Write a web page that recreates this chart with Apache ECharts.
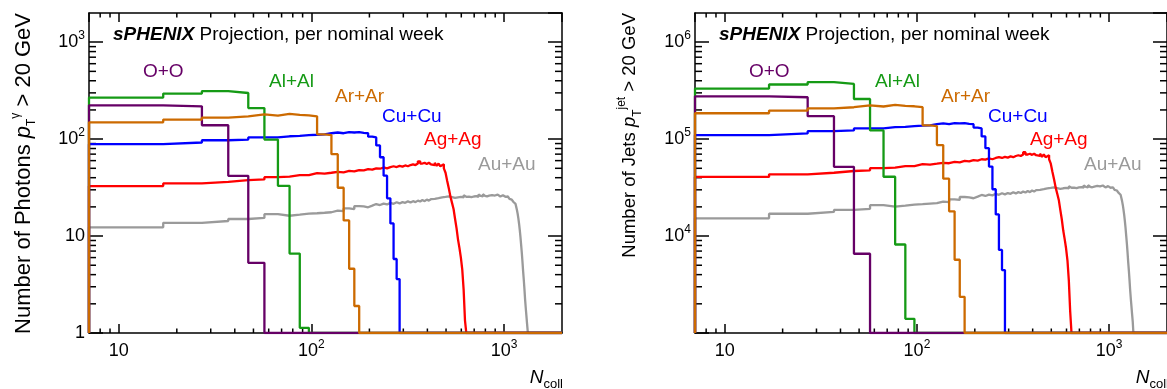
<!DOCTYPE html>
<html><head><meta charset="utf-8">
<script src="https://cdn.jsdelivr.net/npm/echarts@6/dist/echarts.min.js"></script>
<style>html,body{margin:0;padding:0;background:#fff}#c{width:1167px;height:389px}</style>
</head><body><div id="c"></div>
<script>
// Histogram binning in N_coll (bins of width 10 starting at 7)
const BIN_START = 7, BIN_WIDTH = 10;
const species = ['Au+Au', 'Ag+Ag', 'Cu+Cu', 'Al+Al', 'O+O', 'Ar+Ar']; // draw order
const xTickLabels = ['10', '10²', '10³'];

// ---- photons, pT > 20 GeV ----
const photons_OO = [223, 218, 139, 41.8, 5.3];
const photons_AlAl = [268, 295, 313, 299, 209, 99, 33, 6.6, 1.13];
const photons_ArAr = [149, 159, 167, 172, 180, 175, 182, 178, 176, 172, 112, 110, 70, 31.5, 14.5, 4.6, 1.9];
const photons_CuCu = [88.6, 92.3, 97.4, 99, 104, 104, 107, 108, 110, 111,
  112, 115, 117, 115, 118, 117, 118, 116, 115, 106,
  104, 86, 65, 42, 24.5, 13.5, 5.8, 3.6];
const photons_AgAg = [32.8, 34.9, 36.3, 37.8, 38.4, 40.5, 41, 42.5, 42.5, 44.5,
  44, 45, 46, 45.5, 47, 46.5, 48, 47.5, 49, 48.5,
  50, 49.5, 51, 50, 51.5, 52.5, 51.5, 53, 52, 53.5,
  52.5, 54, 55, 54, 56, 59, 56, 57, 55.5, 57,
  55, 56, 54, 57, 53, 56, 52.5, 55, 50, 45,
  37, 31, 25.5, 22, 19, 15, 12, 9.2, 7.5, 6,
  4.5, 2.8, 1.35];
const photons_AuAu = [12.3, 13.7, 14.3, 15.0, 15.4, 16.8, 16.2, 16.6, 17.0, 17.2,
  17.4, 17.6, 18.3, 18.1, 19.3, 19.0, 20.4, 20.2, 19.8, 20.6,
  21.4, 20.9, 21.6, 21.2, 22.0, 21.5, 22.3, 21.7, 22.4, 22.0,
  22.8, 22.2, 22.9, 22.4, 23.2, 22.7, 23.5, 22.9, 23.8, 23.2,
  24.0, 23.3, 24.2, 23.6, 24.6, 23.8, 25.0, 24.1, 25.3, 24.5,
  25.6, 24.6, 25.2, 26.0, 24.8, 25.7, 25.1, 26.2, 25.3, 25.9,
  25.0, 26.3, 25.4, 26.6, 25.5, 26.0, 25.2, 26.4, 25.6, 26.8,
  25.8, 26.3, 25.4, 26.9, 25.9, 26.5, 25.6, 27.0, 26.0, 26.6,
  25.7, 26.9, 26.1, 26.7, 25.8, 26.5, 25.9, 27.1, 26.2, 26.6,
  25.7, 26.8, 26.0, 26.5, 25.6, 26.7, 25.9, 26.4, 25.5, 26.3,
  25.4, 26.0, 25.1, 25.6, 24.6, 25.1, 24.2, 24.5, 23.8, 23.9,
  23.0, 22.6, 21.8, 21.5, 20.8, 20.0, 18.6, 17.0, 15.2, 13.4,
  11.6, 9.8, 8.1, 6.7, 5.4, 4.3, 3.5, 2.8, 2.2, 1.8,
  1.5, 1.25, 1.05];

// ---- jets, pT > 20 GeV ----
const jets_OO = [276500, 270300, 172400, 51800, 6570];
const jets_AlAl = [332300, 365800, 388100, 370800, 259200, 122800, 40900, 8180, 1400];
const jets_ArAr = [184800, 197200, 207100, 213300, 223200, 217000, 225700, 220700, 218200, 213300, 138900, 136400, 86800, 39100, 18000, 5700, 2360];
const jets_CuCu = [109900, 114500, 120800, 122800, 129000, 129000, 132700, 133900, 136400, 137600,
  138900, 142600, 145100, 142600, 146300, 145100, 146300, 143800, 142600, 131400,
  129000, 106600, 80600, 52100, 30400, 16700, 7190, 4460];
const jets_AgAg = [40700, 43300, 45000, 46900, 47600, 50200, 50800, 52700, 52700, 55200,
  54600, 55800, 57000, 56400, 58300, 57700, 59500, 58900, 60800, 60100,
  62000, 61400, 63200, 62000, 63900, 65100, 63900, 65700, 64500, 66300,
  65100, 67000, 68200, 67000, 69400, 73200, 69400, 70700, 68800, 70700,
  68200, 69400, 67000, 70700, 65700, 69400, 65100, 68200, 62000, 55800,
  45900, 38400, 31600, 27300, 23600, 18600, 14900, 11400, 9300, 7440,
  5580, 3470, 1670];
const jets_AuAu = [15250, 16990, 17730, 18600, 19100, 20830, 20090, 20580, 21080, 21330,
  21580, 21820, 22690, 22440, 23930, 23560, 25300, 25050, 24550, 25540,
  26540, 25920, 26780, 26290, 27280, 26660, 27650, 26910, 27780, 27280,
  28270, 27530, 28400, 27780, 28770, 28150, 29140, 28400, 29510, 28770,
  29760, 28890, 30010, 29260, 30500, 29510, 31000, 29880, 31370, 30380,
  31740, 30500, 31250, 32240, 30750, 31870, 31120, 32490, 31370, 32120,
  31000, 32610, 31500, 32980, 31620, 32240, 31250, 32740, 31740, 33230,
  31990, 32610, 31500, 33360, 32120, 32860, 31740, 33480, 32240, 32980,
  31870, 33360, 32360, 33110, 31990, 32860, 32120, 33600, 32490, 32980,
  31870, 33230, 32240, 32860, 31740, 33110, 32120, 32740, 31620, 32610,
  31500, 32240, 31120, 31740, 30500, 31120, 30010, 30380, 29510, 29640,
  28520, 28020, 27030, 26660, 25790, 24800, 23060, 21080, 18850, 16620,
  14380, 12150, 10040, 8310, 6700, 5330, 4340, 3470, 2730, 2230,
  1860, 1550, 1300];

const photonData = {'O+O': photons_OO, 'Al+Al': photons_AlAl, 'Ar+Ar': photons_ArAr, 'Cu+Cu': photons_CuCu, 'Ag+Ag': photons_AgAg, 'Au+Au': photons_AuAu};
const jetData = {'O+O': jets_OO, 'Al+Al': jets_AlAl, 'Ar+Ar': jets_ArAr, 'Cu+Cu': jets_CuCu, 'Ag+Ag': jets_AgAg, 'Au+Au': jets_AuAu};

const colors = {'O+O': '#660066', 'Al+Al': '#159a15', 'Ar+Ar': '#cc6a00', 'Cu+Cu': '#0000ff', 'Ag+Ag': '#ff0000', 'Au+Au': '#9a9a9a'};
const FONT = "'Liberation Sans', Arial, Helvetica, sans-serif";
const X_MIN = 7, X_MAX = 2000;
const TOP = 13, W = 473, H = 320;

const panels = [
  {left: 89, yMin: 1, yMax: 2000, data: photonData, hideExp: [], title: 'Number of Photons {i|p}{sub|T}{sup|γ} > 20 GeV', titleSize: 22},
  {left: 695, yMin: 1000, yMax: 2000000, data: jetData, hideExp: [3], title: 'Number of Jets {i|p}{sub|T}{sup|jet} > 20 GeV', titleSize: 18.5}
];
const labelPos = {'O+O': [143, 71.5], 'Al+Al': [269, 82], 'Ar+Ar': [335, 96.5], 'Cu+Cu': [382, 116.5], 'Ag+Ag': [424, 140], 'Au+Au': [478, 164.5]};

function histPoints(vals, floor) {
  const pts = [[BIN_START, floor]];
  vals.forEach((v, i) => pts.push([BIN_START + i * BIN_WIDTH, v]));
  const end = BIN_START + vals.length * BIN_WIDTH;
  pts.push([end, vals[vals.length - 1]]);
  pts.push([end, floor]);
  pts.push([X_MAX, floor]);
  return pts;
}
const supRich = {
  b: {fontSize: 18, fontFamily: FONT, color: '#000', lineHeight: 24},
  sup: {fontSize: 12, fontFamily: FONT, color: '#000', verticalAlign: 'top', lineHeight: 24}
};
function powLabel(hide) {
  return function (v) {
    const k = Math.round(Math.log10(v));
    if (Math.abs(Math.pow(10, k) - v) / v > 1e-6) return '';
    if (hide.indexOf(k) >= 0) return '';
    if (k === 0) return '{b|1}';
    if (k === 1) return '{b|10}';
    return '{b|10}{sup|' + k + '}';
  };
}
const lineSt = {color: '#000', width: 1.5};
const grid = [], xAxis = [], yAxis = [], series = [], graphic = [];
function range(decades, lo, hi) {
  const out = [];
  decades.forEach(p => { for (let d = 2; d <= 9; d++) { const v = d * p; if (v > lo && v < hi) out.push(v); } });
  return out;
}
const xMinor = range([1, 10, 100, 1000], X_MIN, X_MAX);

panels.forEach((P, g) => {
  grid.push({left: P.left, top: TOP, width: W, height: H, containLabel: false});
  const xBase = {type: 'log', logBase: 10, min: X_MIN, max: X_MAX, gridIndex: g, splitLine: {show: false},
    axisLine: {show: true, lineStyle: lineSt}, axisTick: {show: true, inside: true, length: 9, lineStyle: lineSt}};
  xAxis.push(Object.assign({}, xBase, {position: 'bottom',
    axisLabel: {show: true, margin: 6, formatter: powLabel([]), rich: supRich, showMinLabel: false, showMaxLabel: false}}));
  xAxis.push(Object.assign({}, xBase, {position: 'top', axisLabel: {show: false}}));
  const yBase = {type: 'log', logBase: 10, min: P.yMin, max: P.yMax, gridIndex: g, splitLine: {show: false},
    axisLine: {show: true, lineStyle: lineSt}, axisTick: {show: true, inside: true, length: 14, lineStyle: lineSt}};
  yAxis.push(Object.assign({}, yBase, {position: 'left',
    axisLabel: {show: true, margin: 4, formatter: powLabel(P.hideExp), rich: supRich, showMaxLabel: false}}));
  yAxis.push(Object.assign({}, yBase, {position: 'right', axisLabel: {show: false}}));

  // minor ticks via custom series on the panel's own scales
  const yMinor = range([1, 10, 100, 1000, 10000, 100000, 1000000], P.yMin, P.yMax);
  series.push({type: 'custom', xAxisIndex: 2 * g, yAxisIndex: 2 * g, silent: true, z: 1, clip: false,
    data: xMinor.map(v => [v, P.yMin]),
    renderItem: function (params, api) {
      const cs = params.coordSys; const p = api.coord([api.value(0), api.value(1)]);
      return {type: 'group', children: [
        {type: 'line', shape: {x1: p[0], y1: cs.y + cs.height, x2: p[0], y2: cs.y + cs.height - 4.5}, style: {stroke: '#000', lineWidth: 1.5}},
        {type: 'line', shape: {x1: p[0], y1: cs.y, x2: p[0], y2: cs.y + 4.5}, style: {stroke: '#000', lineWidth: 1.5}}]};
    }});
  series.push({type: 'custom', xAxisIndex: 2 * g, yAxisIndex: 2 * g, silent: true, z: 1, clip: false,
    data: yMinor.map(v => [X_MIN, v]),
    renderItem: function (params, api) {
      const cs = params.coordSys; const p = api.coord([api.value(0), api.value(1)]);
      return {type: 'group', children: [
        {type: 'line', shape: {x1: cs.x, y1: p[1], x2: cs.x + 7, y2: p[1]}, style: {stroke: '#000', lineWidth: 1.5}},
        {type: 'line', shape: {x1: cs.x + cs.width, y1: p[1], x2: cs.x + cs.width - 7, y2: p[1]}, style: {stroke: '#000', lineWidth: 1.5}}]};
    }});

  species.forEach(s => {
    series.push({type: 'line', name: s + g, xAxisIndex: 2 * g, yAxisIndex: 2 * g, step: 'end', showSymbol: false,
      symbol: 'none', animation: false, clip: true, z: 3,
      lineStyle: {color: colors[s], width: 2.3}, data: histPoints(P.data[s], P.yMin)});
  });

  const dx = P.left - 89;
  // header
  graphic.push({type: 'text', x: 113 + dx, y: 35, style: {text: '{bi|sPHENIX} Projection, per nominal week', verticalAlign: 'middle',
    fontSize: 19, fontFamily: FONT, fill: '#000',
    rich: {bi: {fontSize: 19, fontFamily: FONT, fontWeight: 'bold', fontStyle: 'italic', fill: '#000'}}}});
  // species labels
  species.forEach(s => {
    graphic.push({type: 'text', x: labelPos[s][0] + dx, y: labelPos[s][1], style: {text: s, verticalAlign: 'middle',
      fontSize: 19, fontFamily: FONT, fill: colors[s]}});
  });
  // y title
  graphic.push({type: 'text', x: 24 + dx, y: 13, rotation: Math.PI / 2, style: {text: P.title, align: 'right', verticalAlign: 'middle',
    fontSize: P.titleSize, fontFamily: FONT, fill: '#000',
    rich: {
      i: {fontSize: P.titleSize, fontFamily: FONT, fontStyle: 'italic', lineHeight: 28},
      sub: {fontSize: 12, fontFamily: FONT, verticalAlign: 'bottom', lineHeight: 28},
      sup: {fontSize: 12, fontFamily: FONT, verticalAlign: 'top', lineHeight: 28}
    }}});
  // x title
  graphic.push({type: 'text', x: 563 + dx, y: 378, style: {text: '{i|N}{sub|coll}', align: 'right', verticalAlign: 'middle',
    fontSize: 19, fontFamily: FONT, fill: '#000',
    rich: {
      i: {fontSize: 19, fontFamily: FONT, fontStyle: 'italic', lineHeight: 26},
      sub: {fontSize: 13, fontFamily: FONT, verticalAlign: 'bottom', lineHeight: 26}
    }}});
});

const chart = echarts.init(document.getElementById('c'), null, {renderer: 'canvas'});
chart.setOption({
  animation: false,
  backgroundColor: '#fff',
  textStyle: {fontFamily: FONT, color: '#000'},
  grid: grid, xAxis: xAxis, yAxis: yAxis, series: series, graphic: graphic
});
</script>
</body></html>
